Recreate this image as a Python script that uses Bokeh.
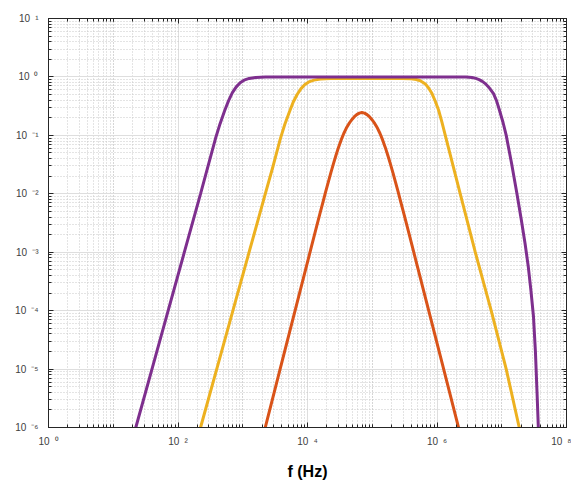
from bokeh.plotting import figure
from bokeh.models import LogAxis, FixedTicker, Range1d
from bokeh.embed import file_html
from bokeh.resources import INLINE

# ---- data (log10 values) ----
x_label_exponents = [0, 2, 4, 6, 8]
y_label_exponents = [1, 0, -1, -2, -3, -4, -5, -6]
x_title = "f (Hz)"

purple_log_f = [1.25, 1.348, 1.598, 1.848, 2.098, 2.348, 2.47, 2.58, 2.65, 2.72, 2.78, 2.84, 2.90, 2.96, 3.02, 3.10,
                3.20, 3.35, 3.5, 6.45, 6.54, 6.60, 6.65, 6.70, 6.745, 6.81, 6.873, 6.92, 6.965, 7.02, 7.069, 7.15,
                7.23, 7.30, 7.36, 7.41, 7.45, 7.49, 7.52, 7.545, 7.565, 7.578]
purple_log_h = [-6.4, -6.0, -5.0, -4.0, -3.0, -2.0, -1.5, -1.05, -0.80, -0.58, -0.41, -0.27, -0.17, -0.10, -0.055, -0.025,
                -0.01, -0.003, 0.0, 0.0, -0.01, -0.025, -0.045, -0.075, -0.114, -0.19, -0.285, -0.41, -0.57, -0.78, -1.0,
                -1.47, -1.97, -2.43, -2.85, -3.25, -3.65, -4.1, -4.7, -5.4, -6.0, -6.5]

yellow_log_f = [2.25, 2.348, 2.598, 2.848, 3.098, 3.348, 3.47, 3.58, 3.65, 3.72, 3.78, 3.84, 3.90, 3.96, 4.02, 4.10,
                4.20, 4.35, 4.5, 5.45, 5.60, 5.68, 5.743, 5.82, 5.87, 5.923, 5.975, 6.025, 6.075, 6.128, 6.359, 6.591,
                6.837, 7.069, 7.27, 7.36]
yellow_log_h = [-6.4, -6.0, -5.0, -4.0, -3.0, -2.0, -1.52, -1.06, -0.81, -0.60, -0.43, -0.30, -0.20, -0.13, -0.085, -0.055,
                -0.037, -0.028, -0.025, -0.025, -0.033, -0.045, -0.065, -0.12, -0.19, -0.285, -0.42, -0.57, -0.77, -1.0,
                -2.0, -3.0, -4.0, -5.0, -6.0, -6.4]

orange_log_f = [3.26, 3.35, 3.58, 3.81, 4.04, 4.14, 4.19, 4.24, 4.28, 4.32, 4.36, 4.40, 4.44, 4.48, 4.52, 4.56, 4.60,
                4.64, 4.68, 4.72, 4.76, 4.80, 4.84, 4.88, 4.92, 4.96, 5.00, 5.04, 5.08, 5.12, 5.16, 5.20, 5.24, 5.28,
                5.32, 5.36, 5.40, 5.44, 5.49, 5.54, 5.64, 5.87, 6.10, 6.33, 6.42]
orange_log_h = [-6.38, -5.99, -4.99, -3.99, -2.996, -2.564, -2.349, -2.137, -1.969, -1.804, -1.643, -1.488, -1.34,
                -1.202, -1.078, -0.968, -0.876, -0.80, -0.737, -0.685, -0.645, -0.619, -0.61, -0.619, -0.645, -0.685,
                -0.737, -0.80, -0.876, -0.968, -1.078, -1.202, -1.34, -1.488, -1.643, -1.804, -1.969, -2.137, -2.349,
                -2.564, -2.996, -3.99, -4.99, -5.99, -6.38]

PURPLE = "#7E2F8E"
YELLOW = "#EDB120"
ORANGE = "#D95319"
AXIS_COLOR = "#262626"
LABEL_COLOR = "#404040"
FONT = "Liberation Sans"

SUP = {"0": "\u2070", "1": "\u00b9", "2": "\u00b2", "3": "\u00b3", "4": "\u2074", "5": "\u2075",
       "6": "\u2076", "7": "\u2077", "8": "\u2078", "9": "\u2079", "-": "\u207b"}


def power_label(e):
    return "10\u2002" + "".join(SUP[c] for c in str(e))


x_major = [10.0 ** e for e in x_label_exponents]
x_minor = [m * 10.0 ** d for d in range(0, 8) for m in range(1, 11)]
y_major = [10.0 ** e for e in y_label_exponents]
y_minor = [m * 10.0 ** d for d in range(-6, 1) for m in range(1, 11)]

p = figure(width=571, height=489, x_axis_type="log", y_axis_type="log",
           x_range=Range1d(1, 1e8), y_range=Range1d(1e-6, 10),
           output_backend="svg", toolbar_location=None,
           min_border_left=48, min_border_right=5, min_border_top=18, min_border_bottom=62,
           background_fill_color="white", border_fill_color="white", outline_line_color=None)

xt = FixedTicker(ticks=x_major, minor_ticks=x_minor)
yt = FixedTicker(ticks=y_major, minor_ticks=y_minor)

bottom_axis = p.below[0]
left_axis = p.left[0]
bottom_axis.ticker = xt
left_axis.ticker = yt
top_axis = LogAxis(ticker=xt)
right_axis = LogAxis(ticker=yt)
p.add_layout(top_axis, "above")
p.add_layout(right_axis, "right")

for ax in (bottom_axis, left_axis, top_axis, right_axis):
    ax.axis_line_color = AXIS_COLOR
    ax.axis_line_width = 1
    ax.major_tick_line_color = AXIS_COLOR
    ax.minor_tick_line_color = AXIS_COLOR
    ax.major_tick_in = 5
    ax.major_tick_out = 0
    ax.minor_tick_in = 3
    ax.minor_tick_out = 0
    ax.major_label_text_font = FONT
    ax.major_label_text_color = LABEL_COLOR

for ax in (top_axis, right_axis):
    ax.major_label_text_font_size = "1px"
    ax.major_label_text_alpha = 0
    ax.major_label_standoff = 0

bottom_axis.major_label_overrides = {t: power_label(e) for t, e in zip(x_major, x_label_exponents)}
bottom_axis.major_label_text_font_size = "10px"
bottom_axis.major_label_standoff = 8
bottom_axis.axis_label = x_title
bottom_axis.axis_label_text_font = FONT
bottom_axis.axis_label_text_font_size = "16px"
bottom_axis.axis_label_text_font_style = "bold"
bottom_axis.axis_label_text_color = "#000000"
bottom_axis.axis_label_standoff = 13

left_axis.major_label_overrides = {t: power_label(e) for t, e in zip(y_major, y_label_exponents)}
left_axis.major_label_text_font_size = "10px"
left_axis.major_label_standoff = 10

for g in (p.xgrid, p.ygrid):
    g.grid_line_color = "#dedede"
    g.grid_line_width = 1
    g.minor_grid_line_color = "#c8c8c8"
    g.minor_grid_line_dash = "1 2"
    g.minor_grid_line_width = 1

p.line([10.0 ** v for v in orange_log_f], [10.0 ** v for v in orange_log_h], line_color=ORANGE, line_width=3)
p.line([10.0 ** v for v in yellow_log_f], [10.0 ** v for v in yellow_log_h], line_color=YELLOW, line_width=3)
p.line([10.0 ** v for v in purple_log_f], [10.0 ** v for v in purple_log_h], line_color=PURPLE, line_width=3)

open("out.html", "w").write(file_html(p, INLINE))
